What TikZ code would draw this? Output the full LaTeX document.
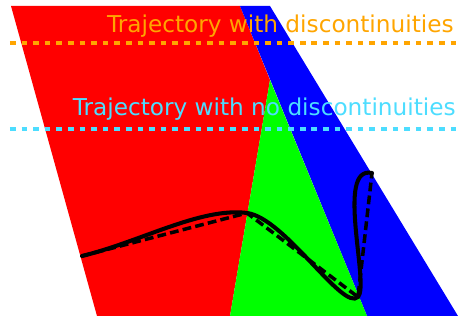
\documentclass[tikz,border=0pt]{standalone}
\usepackage{fontspec}
\setmainfont{DejaVu Sans}
\usepackage{tikz}
\usepackage{xcolor}
\usetikzlibrary{positioning}
\definecolor{zonered}{HTML}{FF0000}
\definecolor{zonegreen}{HTML}{00FF00}
\definecolor{zoneblue}{HTML}{0000FF}
\definecolor{jumporange}{HTML}{FFA500}
\definecolor{smoothcyan}{HTML}{4DDDFF}
\tikzset{
  zone/.style={draw=none},
  guide/.style={line width=1.8pt, dash pattern=on 3.2pt off 3.4pt},
  caption/.style={anchor=base east, inner sep=0pt,
    font=\fontsize{13.2}{15}\selectfont},
  smoothpath/.style={draw=black, line width=2.3pt, line cap=round},
  linearpath/.style={draw=black, line width=2pt, dash pattern=on 5pt off 2.4pt}
}

\begin{document}
\begin{tikzpicture}[x=0.02cm,y=-0.02cm]
  \useasboundingbox (0,0) rectangle (458,320);
  % regions
  \fill[zone,zonered] (11,6) -- (240,6) -- (270,80) -- (230,316) -- (97,316) -- cycle;
  \fill[zone,zoneblue] (240,6) -- (270,6) -- (458,316) -- (367,316) -- cycle;
  \fill[zone,zonegreen] (270,80) -- (367,316) -- (230,316) -- cycle;
  % legend lines
  \draw[guide,jumporange] (10,43) -- (456,43);
  \draw[guide,smoothcyan] (10,129) -- (456,129);
  \node[caption,text=jumporange] (withjumps) at (454,33) {Trajectory with discontinuities};
  \node[caption,text=smoothcyan] (nojumps) at (456,116) {Trajectory with no discontinuities};
  % trajectories
  \coordinate (p0) at (82,256);
  \coordinate (p1) at (247,213);
  \coordinate (p2) at (358,297);
  \coordinate (p3) at (372,173);
  \draw[linearpath] (p0) -- (p1) -- (p2) -- (p3);
  \draw[smoothpath] (p0) .. controls (140,242) and (201,207) .. (p1)
    .. controls (285,218) and (343,312) .. (p2)
    .. controls (370,285) and (335,165) .. (p3);
\end{tikzpicture}
\end{document}
